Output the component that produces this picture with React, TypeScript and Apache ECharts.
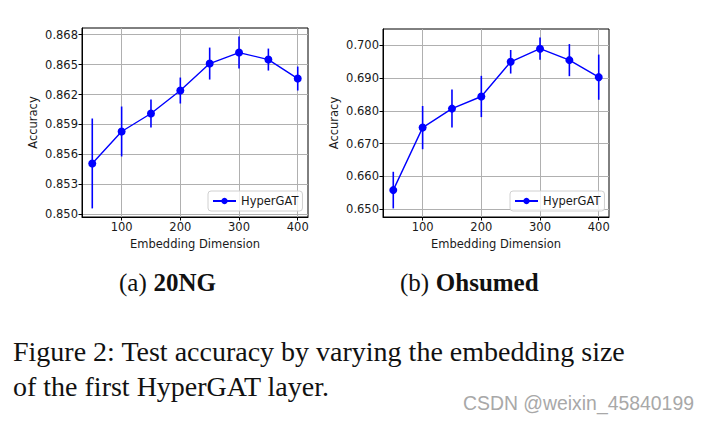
import React, { useEffect, useRef } from "react";
import * as echarts from "echarts";

const dims = [50, 100, 150, 200, 250, 300, 350, 400];
const ng20Acc = [0.8551, 0.8583, 0.8601, 0.8624, 0.8651, 0.8662, 0.8655, 0.8636];
const ng20Err = [0.0045, 0.0025, 0.0014, 0.0013, 0.0016, 0.0016, 0.0011, 0.0012];
const ohsAcc = [0.6558, 0.6749, 0.6807, 0.6844, 0.695, 0.699, 0.6955, 0.6903];
const ohsErr = [0.0056, 0.0066, 0.0058, 0.0063, 0.0036, 0.0034, 0.0049, 0.0069];
const xTicks = [100, 200, 300, 400];
const ng20Ticks = [0.85, 0.853, 0.856, 0.859, 0.862, 0.865, 0.868];
const ohsTicks = [0.65, 0.66, 0.67, 0.68, 0.69, 0.7];
const seriesName = "HyperGAT";
const xName = "Embedding Dimension";
const yName = "Accuracy";
const captionA = ["(a)", "20NG"];
const captionB = ["(b)", "Ohsumed"];
const figLine1 = "Figure 2: Test accuracy by varying the embedding size";
const figLine2 = "of the first HyperGAT layer.";
const watermark = "CSDN @weixin_45840199";

const SANS = "DejaVu Sans";
const SERIF = "Liberation Serif";
const BLUE = "#0000ff";
const TXT = "#1a1a1a";

function range(acc: number[], err: number[]) {
  const lo = Math.min(...acc.map((v, i) => v - err[i]));
  const hi = Math.max(...acc.map((v, i) => v + err[i]));
  const m = (hi - lo) * 0.05;
  return [lo - m, hi + m];
}

function xAxis(gi: number) {
  return {
    type: "value",
    gridIndex: gi,
    min: 32.5,
    max: 417.5,
    name: xName,
    nameLocation: "middle",
    nameGap: 21,
    nameTextStyle: { fontFamily: SANS, fontSize: 11.5, color: TXT },
    axisLine: { show: true, lineStyle: { color: "#000", width: 1 } },
    axisTick: { show: true, length: 3.5, lineStyle: { color: "#000" }, customValues: xTicks },
    axisLabel: {
      fontFamily: SANS,
      fontSize: 11.5,
      color: TXT,
      margin: 4,
      customValues: xTicks,
      formatter: (v: number) => String(v),
    },
    splitLine: { show: true, lineStyle: { color: "#b0b0b0", width: 1 } },
  };
}

function yAxis(gi: number, r: number[], ticks: number[]) {
  return {
    type: "value",
    gridIndex: gi,
    min: r[0],
    max: r[1],
    name: yName,
    nameLocation: "middle",
    nameGap: 43,
    nameTextStyle: { fontFamily: SANS, fontSize: 11.5, color: TXT },
    axisLine: { show: true, lineStyle: { color: "#000", width: 1 } },
    axisTick: { show: true, length: 3.5, lineStyle: { color: "#000" }, customValues: ticks },
    axisLabel: {
      fontFamily: SANS,
      fontSize: 11.5,
      color: TXT,
      margin: 4,
      customValues: ticks,
      formatter: (v: number) => v.toFixed(3),
    },
    splitLine: { show: true, lineStyle: { color: "#b0b0b0", width: 1 } },
  };
}

function errSeries(gi: number, acc: number[], err: number[]) {
  return {
    type: "custom",
    xAxisIndex: gi,
    yAxisIndex: gi,
    silent: true,
    z: 3,
    data: dims.map((d, i) => [d, acc[i] - err[i], acc[i] + err[i]]),
    renderItem: (params: any, api: any) => {
      const p1 = api.coord([api.value(0), api.value(1)]);
      const p2 = api.coord([api.value(0), api.value(2)]);
      return {
        type: "line",
        shape: { x1: p1[0], y1: p1[1], x2: p2[0], y2: p2[1] },
        style: { stroke: BLUE, lineWidth: 1.6 },
      };
    },
  };
}

function lineSeries(gi: number, acc: number[]) {
  return {
    type: "line",
    name: seriesName,
    xAxisIndex: gi,
    yAxisIndex: gi,
    z: 4,
    data: dims.map((d, i) => [d, acc[i]]),
    symbol: "circle",
    symbolSize: 8,
    showSymbol: true,
    lineStyle: { color: BLUE, width: 1.4 },
    itemStyle: { color: BLUE },
  };
}

function legend(left: number, top: number) {
  return {
    show: true,
    data: [seriesName],
    left,
    top,
    orient: "vertical",
    itemWidth: 23,
    itemHeight: 8,
    itemGap: 5,
    padding: [4, 4, 4, 4],
    backgroundColor: "rgba(255,255,255,0.8)",
    borderColor: "#d0d0d0",
    borderWidth: 1,
    borderRadius: 3,
    textStyle: { fontFamily: SANS, fontSize: 11.5, color: TXT },
    selectedMode: false,
  };
}

export default function App() {
  const ref = useRef<HTMLDivElement>(null);
  useEffect(() => {
    if (!ref.current) return;
    const chart = echarts.init(ref.current, undefined, { renderer: "svg" });
    const r1 = range(ng20Acc, ng20Err);
    const r2 = range(ohsAcc, ohsErr);
    const captionRich = {
      r: { fontFamily: SERIF, fontSize: 25, fill: "#111" },
      b: { fontFamily: SERIF, fontSize: 25, fontWeight: "bold", fill: "#111" },
    };
    chart.setOption({
      animation: false,
      backgroundColor: "#ffffff",
      grid: [
        { left: 82, top: 28, width: 226, height: 189, show: true, borderColor: "#000", borderWidth: 1 },
        { left: 383, top: 29, width: 226, height: 188, show: true, borderColor: "#000", borderWidth: 1 },
      ],
      xAxis: [xAxis(0), xAxis(1)],
      yAxis: [yAxis(0, r1, ng20Ticks), yAxis(1, r2, ohsTicks)],
      legend: [legend(208, 191), legend(510, 191)],
      series: [
        errSeries(0, ng20Acc, ng20Err),
        lineSeries(0, ng20Acc),
        errSeries(1, ohsAcc, ohsErr),
        lineSeries(1, ohsAcc),
      ],
      graphic: [
        {
          type: "text",
          left: 119,
          top: 270,
          style: { text: `{r|${captionA[0]}}  {b|${captionA[1]}}`, rich: captionRich },
        },
        {
          type: "text",
          left: 400,
          top: 270,
          style: { text: `{r|${captionB[0]}}  {b|${captionB[1]}}`, rich: captionRich },
        },
        {
          type: "text",
          left: 13,
          top: 337,
          style: { text: figLine1, fontFamily: SERIF, fontSize: 28, fill: "#111" },
        },
        {
          type: "text",
          left: 13,
          top: 372,
          style: { text: figLine2, fontFamily: SERIF, fontSize: 28, fill: "#111" },
        },
        {
          type: "text",
          left: 463,
          top: 393,
          style: { text: watermark, fontFamily: "Liberation Sans", fontSize: 19.4, fill: "#a8a8a8" },
        },
      ],
    });
    return () => chart.dispose();
  }, []);
  return (
    <div
      ref={ref}
      style={{ position: "fixed", left: 0, top: 0, width: 710, height: 422, background: "#fff" }}
    />
  );
}
